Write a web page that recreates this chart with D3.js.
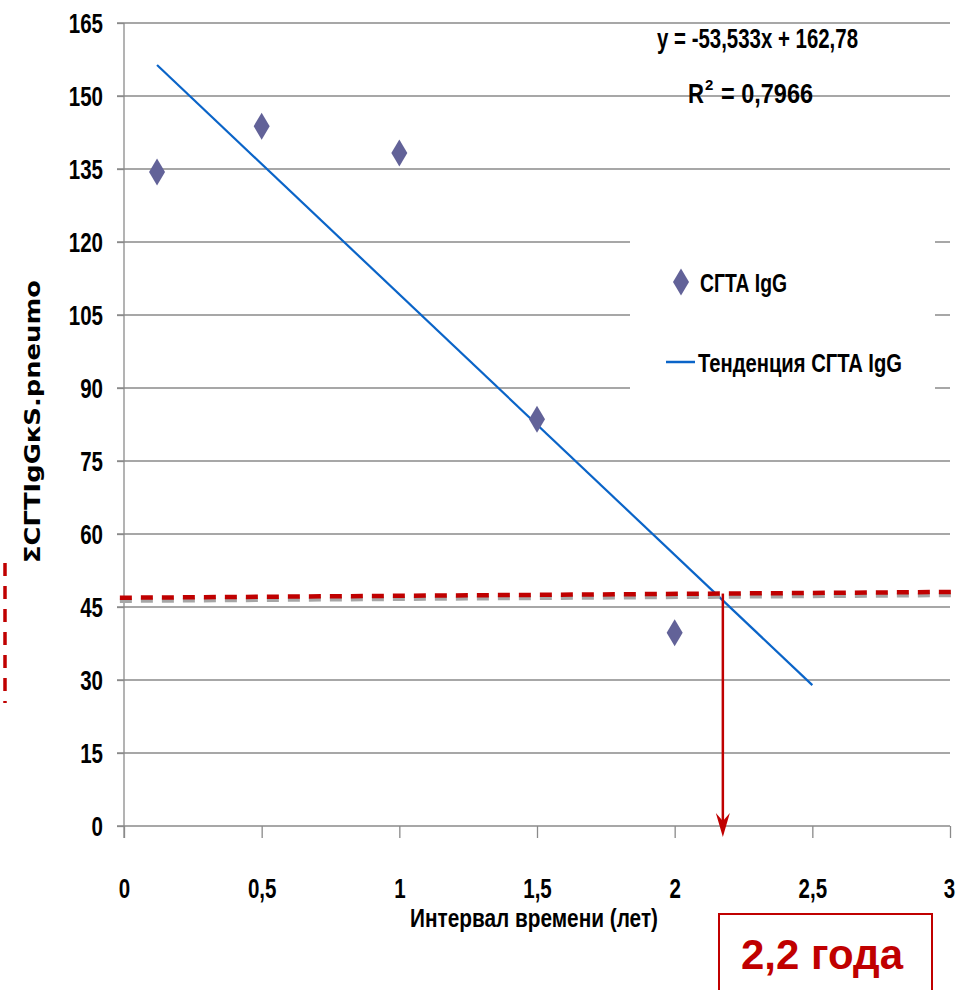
<!DOCTYPE html>
<html>
<head>
<meta charset="utf-8">
<script src="https://cdn.jsdelivr.net/npm/d3@7"></script>
<style>
  body { margin: 0; background: #fff; }
  svg text { font-family: "Liberation Sans", Arial, sans-serif; font-weight: bold; }
</style>
</head>
<body>
<svg id="chart" width="957" height="990"></svg>
<script>
// data
var xs = [0.12, 0.5, 1, 1.5, 2];
var ys = [134.4, 143.8, 138.3, 83.6, 39.7];
var yTicks = [0, 15, 30, 45, 60, 75, 90, 105, 120, 135, 150, 165];
var xTicks = [0, 0.5, 1, 1.5, 2, 2.5, 3];
var trendX = [0.12, 2.5];
var slope = -53.533, intercept = 162.78;
var levelX = [-0.015, 3.03];
var levelY = [46.9, 48.1];
var crossX = 2.175;

var svg = d3.select("svg#chart");
var xScale = d3.scaleLinear().domain([0, 3]).range([124, 950]);
var yScale = d3.scaleLinear().domain([0, 165]).range([826, 23]);
var fmt = function(d){ return String(d).replace(".", ","); };

// squeeze text to look like a narrow font
function squeeze(sel, f){
  sel.each(function(){
    var w = this.getComputedTextLength();
    d3.select(this).attr("textLength", w * f).attr("lengthAdjust", "spacingAndGlyphs");
  });
}
function fitTo(sel, w){
  sel.attr("textLength", w).attr("lengthAdjust", "spacingAndGlyphs");
}

// gridlines
svg.selectAll("line.grid")
  .data(yTicks.slice(1))
  .enter().append("line")
  .attr("class", "grid")
  .attr("x1", xScale(0) - 7).attr("x2", xScale(3))
  .attr("y1", function(d){ return yScale(d); })
  .attr("y2", function(d){ return yScale(d); })
  .attr("stroke", "#8a8a8a").attr("stroke-width", 1.3);

// y axis
var yAxis = d3.axisLeft(yScale).tickValues(yTicks).tickSize(7).tickFormat(fmt);
var gy = svg.append("g").attr("transform", "translate(" + xScale(0) + ",0)").call(yAxis);
gy.select(".domain").attr("stroke", "#8a8a8a").attr("stroke-width", 1.3)
  .attr("d", "M0," + yScale(165) + "V" + (yScale(0) + 12));
gy.selectAll(".tick line").attr("stroke", "#8a8a8a").attr("stroke-width", 1.3);
gy.selectAll(".tick text").attr("x", -21).attr("dy", "0.36em")
  .attr("fill", "#000").style("font-size", "27px");
squeeze(gy.selectAll(".tick text"), 0.76);

// x axis
var xAxis = d3.axisBottom(xScale).tickValues(xTicks).tickSize(12).tickFormat(fmt);
var gx = svg.append("g").attr("transform", "translate(0," + yScale(0) + ")").call(xAxis);
gx.select(".domain").attr("stroke", "#8a8a8a").attr("stroke-width", 1.3)
  .attr("d", "M" + (xScale(0) - 7) + ",0H" + xScale(3));
gx.selectAll(".tick line").attr("stroke", "#8a8a8a").attr("stroke-width", 1.3);
gx.selectAll(".tick text").attr("y", 72).attr("dy", null)
  .attr("fill", "#000").style("font-size", "27px");
squeeze(gx.selectAll(".tick text"), 0.76);
gx.selectAll(".tick text").filter(function(d){ return d === 3; }).attr("dx", -1);

// legend box (white, covers gridlines)
svg.append("rect").attr("x", 630).attr("y", 200).attr("width", 305).attr("height", 225).attr("fill", "#fff");

// trendline
svg.append("line")
  .attr("x1", xScale(trendX[0])).attr("y1", yScale(slope * trendX[0] + intercept))
  .attr("x2", xScale(trendX[1])).attr("y2", yScale(slope * trendX[1] + intercept))
  .attr("stroke", "#0a64c8").attr("stroke-width", 2.2);

// level dashed line with grey shadow
[["#a6a6a6", 3], ["#c00000", 0]].forEach(function(s){
  svg.append("line")
    .attr("x1", xScale(levelX[0])).attr("y1", yScale(levelY[0]) + s[1])
    .attr("x2", xScale(levelX[1])).attr("y2", yScale(levelY[1]) + s[1])
    .attr("stroke", s[0]).attr("stroke-width", 4.5)
    .attr("stroke-dasharray", "12,9");
});

// vertical arrow
var yCross = yScale(levelY[0] + (levelY[1] - levelY[0]) * (crossX - levelX[0]) / (levelX[1] - levelX[0]));
svg.append("line")
  .attr("x1", xScale(crossX)).attr("x2", xScale(crossX))
  .attr("y1", yCross).attr("y2", yScale(0) + 4)
  .attr("stroke", "#c00000").attr("stroke-width", 2.5);
svg.append("path")
  .attr("d", "M" + (xScale(crossX) - 7) + "," + (yScale(0) - 13) +
             "L" + xScale(crossX) + "," + (yScale(0) + 11) +
             "L" + (xScale(crossX) + 7) + "," + (yScale(0) - 13) +
             "L" + xScale(crossX) + "," + (yScale(0) - 5) + "Z")
  .attr("fill", "#c00000");

// diamonds
var diamond = "M0,-13.5L8,0L0,13.5L-8,0Z";
svg.selectAll("path.pt")
  .data(xs)
  .enter().append("path")
  .attr("class", "pt")
  .attr("d", diamond)
  .attr("transform", function(d, i){ return "translate(" + xScale(d) + "," + yScale(ys[i]) + ")"; })
  .attr("fill", "#626298");

// equation
fitTo(svg.append("text").attr("x", 657).attr("y", 48)
  .style("font-size", "28px").text("y = -53,533x + 162,78"), 201);
svg.append("text").attr("x", 688).attr("y", 103).style("font-size", "28px")
  .attr("textLength", 16).attr("lengthAdjust", "spacingAndGlyphs").text("R");
svg.append("text").attr("x", 705).attr("y", 90).style("font-size", "15px").text("2");
fitTo(svg.append("text").attr("x", 721).attr("y", 103).style("font-size", "28px").text("= 0,7966"), 92);

// legend
svg.append("path").attr("d", diamond).attr("transform", "translate(681,282)").attr("fill", "#626298");
fitTo(svg.append("text").attr("x", 700).attr("y", 292).style("font-size", "26px").text("СГТА IgG"), 87);
svg.append("line").attr("x1", 666).attr("x2", 695).attr("y1", 362).attr("y2", 362)
  .attr("stroke", "#0a64c8").attr("stroke-width", 2.5);
fitTo(svg.append("text").attr("x", 698).attr("y", 372).style("font-size", "26px").text("Тенденция СГТА IgG"), 204);

// axis titles
fitTo(svg.append("text").attr("x", 410).attr("y", 927)
  .style("font-size", "25px").text("Интервал времени  (лет)"), 248);
fitTo(svg.append("text").attr("transform", "translate(40,563) rotate(-90)")
  .style("font-family", "'DejaVu Sans', sans-serif").style("font-size", "22px")
  .text("ΣСГТIgGкS.pneumo"), 283);

// left dashed red marker
svg.append("line").attr("x1", 5).attr("x2", 5).attr("y1", 563).attr("y2", 703)
  .attr("stroke", "#c00000").attr("stroke-width", 3.5).attr("stroke-dasharray", "13,10");

// answer box
svg.append("rect").attr("x", 719).attr("y", 914).attr("width", 213).attr("height", 90)
  .attr("fill", "#fff").attr("stroke", "#c00000").attr("stroke-width", 2);
fitTo(svg.append("text").attr("x", 741).attr("y", 969)
  .attr("fill", "#c00000").style("font-size", "42px").text("2,2 года"), 162);
</script>
</body>
</html>
